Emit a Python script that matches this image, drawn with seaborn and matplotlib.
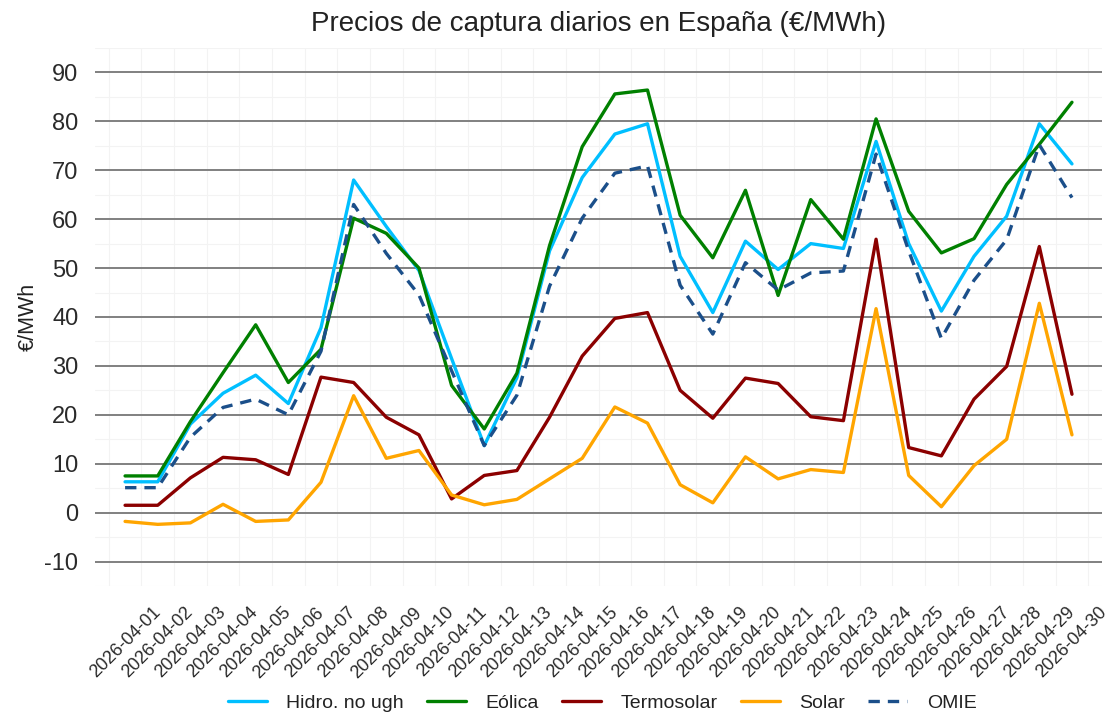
import pandas as pd
import seaborn as sns
from matplotlib import pyplot as plt
from matplotlib.ticker import MultipleLocator

# daily capture prices, April 2026 (EUR/MWh)
dates = ['2026-04-{:02d}'.format(d) for d in range(1, 31)]

hidro = [6.3, 6.3, 18.1, 24.4, 28.1, 22.3, 37.8, 68.0, 58.5, 49.5,
         31.5, 13.7, 27.6, 53.5, 68.5, 77.4, 79.5, 52.4, 40.9, 55.5,
         49.7, 55.0, 54.0, 75.9, 55.0, 41.2, 52.4, 60.6, 79.5, 71.3]
eolica = [7.5, 7.5, 18.6, 28.6, 38.4, 26.6, 33.4, 60.2, 57.1, 50.0,
          26.0, 17.1, 28.5, 54.6, 74.8, 85.6, 86.4, 60.8, 52.1, 65.9,
          44.4, 64.0, 55.9, 80.5, 61.6, 53.1, 56.0, 67.1, 75.3, 83.9]
termosolar = [1.5, 1.5, 7.1, 11.3, 10.8, 7.8, 27.7, 26.6, 19.5, 15.9,
              2.8, 7.6, 8.6, 19.5, 32.0, 39.7, 40.9, 25.0, 19.3, 27.5,
              26.4, 19.6, 18.8, 55.9, 13.3, 11.6, 23.2, 29.9, 54.4, 24.2]
solar = [-1.8, -2.4, -2.1, 1.7, -1.8, -1.5, 6.2, 23.9, 11.1, 12.7,
         3.6, 1.6, 2.7, 6.9, 11.1, 21.6, 18.3, 5.7, 2.0, 11.4,
         6.9, 8.8, 8.2, 41.7, 7.6, 1.2, 9.6, 15.0, 42.8, 15.9]
omie = [5.1, 5.1, 15.4, 21.5, 23.2, 20.0, 33.0, 63.0, 53.0, 44.5,
        29.0, 13.7, 24.0, 46.3, 60.2, 69.4, 70.9, 46.5, 36.5, 51.1,
        45.5, 49.0, 49.4, 73.3, 53.5, 35.6, 47.5, 55.8, 75.2, 64.4]

series = {'Hidro. no ugh': hidro, 'Eólica': eolica, 'Termosolar': termosolar,
          'Solar': solar, 'OMIE': omie}
palette = {'Hidro. no ugh': '#00BFFF', 'Eólica': '#008000', 'Termosolar': '#8B0000',
           'Solar': '#FFA500', 'OMIE': '#1B4F8A'}
dashes = {'Hidro. no ugh': '', 'Eólica': '', 'Termosolar': '', 'Solar': '', 'OMIE': (3.4, 2.4)}

rows = []
for name, vals in series.items():
    for i, v in enumerate(vals):
        rows.append({'dia': i, 'precio': v, 'tecnologia': name})
df = pd.DataFrame(rows)

sns.set_style('white')
plt.rcParams['font.family'] = ['Liberation Sans', 'DejaVu Sans']
plt.rcParams['axes.unicode_minus'] = False
plt.rcParams['text.color'] = '#222222'
plt.rcParams['axes.labelcolor'] = '#222222'
plt.rcParams['xtick.color'] = '#2a2a2a'
plt.rcParams['ytick.color'] = '#2a2a2a'

fig = plt.figure(figsize=(11.09, 7.16), dpi=100)
ax = fig.add_axes([0.0857, 0.1816, 0.908, 0.7514])

sns.lineplot(df, x='dia', y='precio', hue='tecnologia', style='tecnologia',
             palette=palette, dashes=dashes, linewidth=2.4, ax=ax)

ax.set_xlim(-0.92, 29.92)
ax.set_ylim(-15, 95)
ax.set_yticks(range(-10, 91, 10))
ax.yaxis.set_minor_locator(MultipleLocator(5))
ax.set_xticks(range(len(dates)), dates, rotation=45)
ax.set_xticks([i + 0.5 for i in range(-1, 30)], minor=True)

ax.grid(which='major', axis='y', color='#808080', linewidth=1.4)
ax.grid(which='minor', axis='both', color='#f3f3f3', linewidth=0.8)
ax.grid(which='major', axis='x', visible=False)
ax.set_axisbelow(True)
for s in ax.spines.values():
    s.set_visible(False)

ax.tick_params(axis='y', which='major', length=7, width=2.6, pad=5, labelsize=17, direction='out')
ax.tick_params(axis='x', which='major', length=7, width=2, pad=6, labelsize=13, direction='out')
ax.tick_params(which='minor', length=0)

ax.set_xlabel(None)
ax.set_ylabel('€/MWh', fontsize=15.5, labelpad=4)
ax.set_title('Precios de captura diarios en España (€/MWh)', fontsize=20, pad=12)

handles, labels = ax.get_legend_handles_labels()
ax.get_legend().remove()
fig.legend(handles, labels, loc='center', bbox_to_anchor=(0.543, 0.018), ncol=5, frameon=False,
           fontsize=14, handlelength=2.0, handletextpad=1.0, columnspacing=1.2)

plt.savefig('out.png', dpi=100)
